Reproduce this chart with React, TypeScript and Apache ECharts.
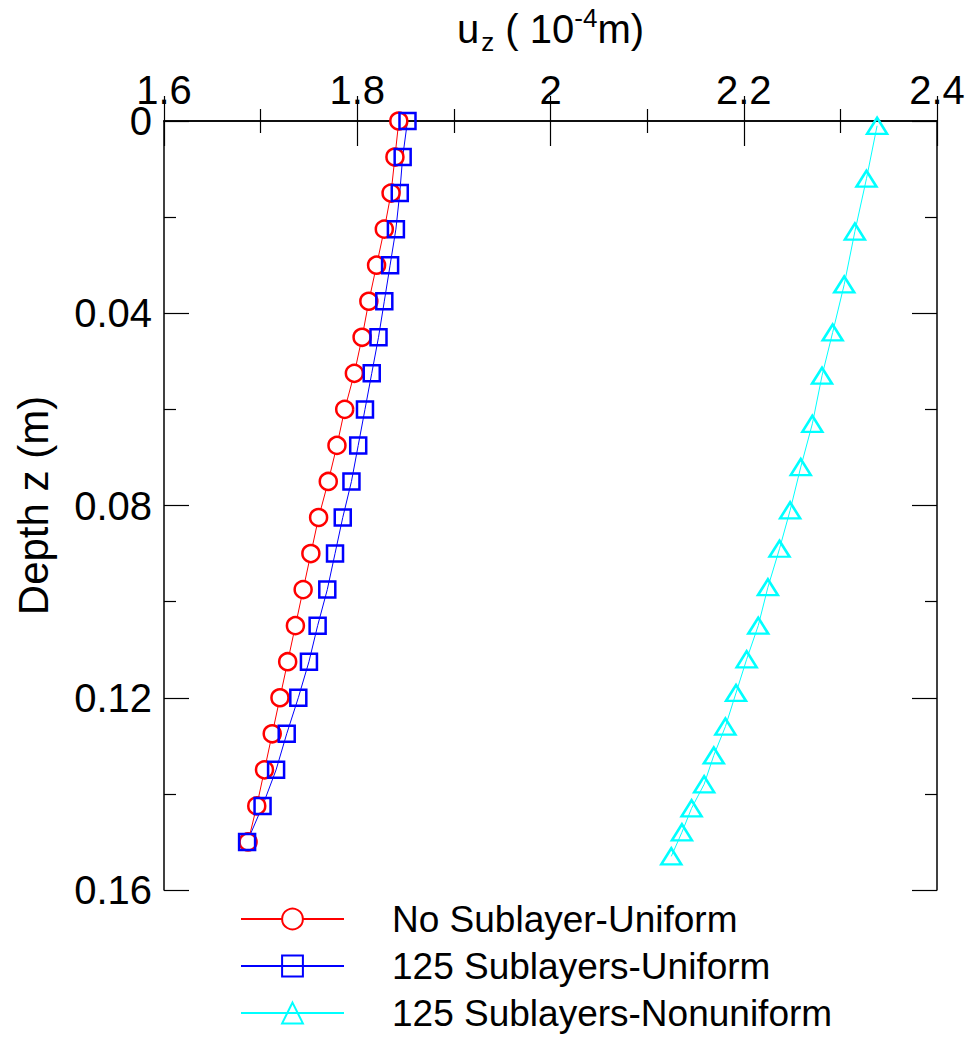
import React, { useEffect, useRef } from "react";
import * as echarts from "echarts";

// Depths (m) for uniform series
const depthUniform = [
  0, 0.0075, 0.015, 0.0225, 0.03, 0.0375, 0.045, 0.0525, 0.06, 0.0675, 0.075,
  0.0825, 0.09, 0.0975, 0.105, 0.1125, 0.12, 0.1275, 0.135, 0.1425, 0.15,
];
// u_z (1e-4 m), No Sublayer-Uniform
const uzNoSub = [
  1.843, 1.839, 1.835, 1.828, 1.820, 1.812, 1.805, 1.797, 1.787, 1.779, 1.770,
  1.760, 1.752, 1.744, 1.736, 1.728, 1.720, 1.712, 1.704, 1.696, 1.687,
];
// u_z (1e-4 m), 125 Sublayers-Uniform
const uz125Uni = [
  1.852, 1.847, 1.844, 1.840, 1.834, 1.828, 1.822, 1.815, 1.808, 1.801, 1.794,
  1.785, 1.777, 1.769, 1.759, 1.750, 1.739, 1.727, 1.716, 1.702, 1.686,
];
// Depths (m) for nonuniform series
const depthNonuni = [
  0.001, 0.012, 0.023, 0.034, 0.044, 0.053, 0.063, 0.072, 0.081, 0.089, 0.097,
  0.105, 0.112, 0.119, 0.126, 0.132, 0.138, 0.143, 0.148, 0.153,
];
// u_z (1e-4 m), 125 Sublayers-Nonuniform
const uz125Non = [
  2.338, 2.327, 2.315, 2.304, 2.292, 2.281, 2.271, 2.259, 2.248, 2.237, 2.225,
  2.215, 2.203, 2.192, 2.181, 2.169, 2.159, 2.146, 2.136, 2.125,
];

const seriesNames = [
  "No Sublayer-Uniform",
  "125 Sublayers-Uniform",
  "125 Sublayers-Nonuniform",
];

const FONT = "Liberation Sans";

export default function App() {
  const ref = useRef<HTMLDivElement>(null);
  useEffect(() => {
    if (!ref.current) return;
    const chart = echarts.init(ref.current, undefined, { renderer: "svg" });
    const axisLine = { show: true, lineStyle: { color: "#000", width: 1.5 } };
    const tick = { show: true, inside: true, length: 25, lineStyle: { color: "#000", width: 1.2 } };
    const minor = { show: true, splitNumber: 2, length: 12, lineStyle: { color: "#000", width: 1.2 } };
    const label = { fontSize: 40, color: "#000", fontFamily: FONT, lineHeight: 30 };
    const pair = (xs: number[], ys: number[]) => xs.map((x, i) => [x, ys[i]]);
    chart.setOption({
      animation: false,
      backgroundColor: "#fff",
      grid: { left: 164, top: 121, right: 35, bottom: 147, outerBoundsMode: "none", containLabel: false },
      xAxis: [
        {
          type: "value",
          position: "top",
          min: 1.6,
          max: 2.4,
          interval: 0.2,
          axisLine,
          axisTick: tick,
          minorTick: minor,
          splitLine: { show: false },
          axisLabel: {
            ...label,
            margin: 16,
            formatter: (v: number) => String(+v.toFixed(2)),
          },
          name: "{b|u}{sub|z}{b| ( 10}{sup|-4}{b|m)}",
          nameLocation: "middle",
          nameGap: 66,
          nameTextStyle: {
            fontFamily: FONT,
            color: "#000",
            rich: {
              b: { fontSize: 40, fontFamily: FONT, color: "#000", lineHeight: 44 },
              sub: { fontSize: 26, fontFamily: FONT, color: "#000", padding: [26, 0, 0, 2] },
              sup: { fontSize: 26, fontFamily: FONT, color: "#000", padding: [0, 0, 22, 0] },
            },
          },
        },
        {
          type: "value",
          position: "bottom",
          min: 1.6,
          max: 2.4,
          interval: 0.2,
          axisLine,
          axisTick: tick,
          minorTick: minor,
          splitLine: { show: false },
          axisLabel: { show: false },
        },
      ],
      yAxis: [
        {
          type: "value",
          position: "left",
          inverse: true,
          min: 0,
          max: 0.16,
          interval: 0.04,
          axisLine,
          axisTick: tick,
          minorTick: minor,
          splitLine: { show: false },
          axisLabel: { ...label, margin: 12, formatter: (v: number) => String(+v.toFixed(2)) },
          name: "Depth z (m)",
          nameLocation: "middle",
          nameGap: 110,
          nameTextStyle: { fontSize: 42, fontFamily: FONT, color: "#000" },
        },
        {
          type: "value",
          position: "right",
          inverse: true,
          min: 0,
          max: 0.16,
          interval: 0.04,
          axisLine,
          axisTick: tick,
          minorTick: minor,
          splitLine: { show: false },
          axisLabel: { show: false },
        },
      ],
      legend: {
        orient: "vertical",
        left: 240,
        top: 899,
        height: 200,
        padding: 0,
        itemWidth: 103,
        itemHeight: 26,
        itemGap: 7,
        data: seriesNames,
        textStyle: {
          fontSize: 37,
          fontFamily: FONT,
          color: "#000",
          lineHeight: 40,
          padding: [0, 0, 0, 43],
        },
      },
      series: [
        {
          name: seriesNames[0],
          type: "line",
          data: pair(uzNoSub, depthUniform),
          symbol: "circle",
          symbolSize: 17,
          showAllSymbol: true,
          lineStyle: { color: "#ff0000", width: 1 },
          itemStyle: { color: "#fff", borderColor: "#ff0000", borderWidth: 2.5 },
          color: "#ff0000",
        },
        {
          name: seriesNames[1],
          type: "line",
          data: pair(uz125Uni, depthUniform),
          symbol: "rect",
          symbolSize: 16,
          showAllSymbol: true,
          lineStyle: { color: "#0000ff", width: 1 },
          itemStyle: { color: "rgba(255,255,255,0)", borderColor: "#0000ff", borderWidth: 2.5 },
          color: "#0000ff",
        },
        {
          name: seriesNames[2],
          type: "line",
          data: pair(uz125Non, depthNonuni),
          symbol: "triangle",
          symbolSize: [20, 16],
          showAllSymbol: true,
          lineStyle: { color: "#00ffff", width: 1 },
          itemStyle: { color: "rgba(255,255,255,0)", borderColor: "#00ffff", borderWidth: 2.5 },
          color: "#00ffff",
        },
      ],
    });
    return () => chart.dispose();
  }, []);
  return (
    <div
      ref={ref}
      style={{ position: "fixed", left: 0, top: 0, width: 972, height: 1037, background: "#fff" }}
    />
  );
}
